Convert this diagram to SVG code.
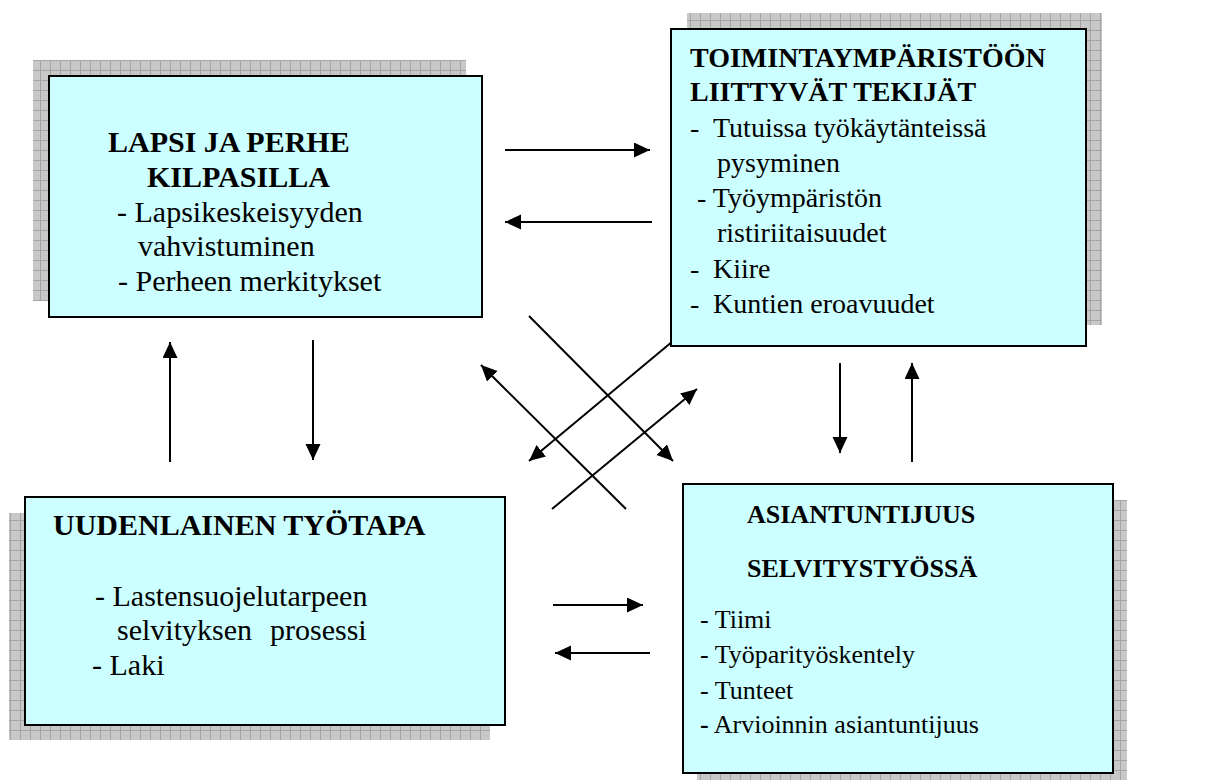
<svg xmlns="http://www.w3.org/2000/svg" width="1213" height="780" viewBox="0 0 1213 780">
<style>
.box{fill:#ccffff;stroke:#000;stroke-width:2}
.sh{fill:url(#grid)}
text{fill:#000}
.b{font-weight:bold}
.c{stroke:#000;stroke-width:2;fill:none;marker-end:url(#ah)}
</style>
<defs>
<pattern id="grid" width="10" height="10" patternUnits="userSpaceOnUse">
<rect width="10" height="10" fill="#c8c8c8"/>
<path d="M0,0.5H10M0.5,0V10" stroke="#a4a4a4" stroke-width="1"/>
</pattern>
<marker id="ah" markerUnits="userSpaceOnUse" markerWidth="18" markerHeight="16" refX="16" refY="7.5" orient="auto">
<path d="M0,0L16,7.5L0,15z" fill="#000"/>
</marker>
</defs>
<rect width="1213" height="780" fill="#fff"/>
<g id="connectors">
<line class="c" x1="505" y1="150" x2="650" y2="150"/>
<line class="c" x1="652" y1="222" x2="505" y2="222"/>
<line class="c" x1="170" y1="462" x2="170" y2="342"/>
<line class="c" x1="313" y1="340" x2="313" y2="460"/>
<line class="c" x1="840" y1="363" x2="840" y2="453"/>
<line class="c" x1="912" y1="462" x2="912" y2="363"/>
<line class="c" x1="553" y1="605" x2="643" y2="605"/>
<line class="c" x1="650" y1="653" x2="555" y2="653"/>
<line class="c" x1="529" y1="316" x2="673" y2="461"/>
<line class="c" x1="673" y1="341" x2="529" y2="461"/>
<line class="c" x1="626" y1="509" x2="481" y2="365"/>
<line class="c" x1="552" y1="509" x2="697" y2="389"/>
</g>
<g font-family="'Liberation Serif', 'Times New Roman', 'DejaVu Serif', serif">
<g id="node-lapsi">
<rect class="sh" x="33" y="60" width="433" height="241"/>
<rect class="box" x="49" y="76" width="433" height="241"/>
<text class="b" font-size="30" x="108" y="152">LAPSI JA PERHE</text>
<text class="b" font-size="30" x="147" y="187">KILPASILLA</text>
<text font-size="30" x="117" y="222">- Lapsikeskeisyyden</text>
<text font-size="30" x="138" y="256">vahvistuminen</text>
<text font-size="30" x="118" y="291">- Perheen merkitykset</text>
</g>
<g id="node-toiminta">
<rect class="sh" x="687" y="13" width="415" height="312"/>
<rect class="box" x="671" y="29" width="415" height="317"/>
<text class="b" font-size="28" x="690" y="67">TOIMINTAYMPÄRISTÖÖN</text>
<text class="b" font-size="28" x="690" y="101">LIITTYVÄT TEKIJÄT</text>
<text font-size="28" y="137"><tspan x="690">-</tspan><tspan x="713">Tutuissa työkäytänteissä</tspan></text>
<text font-size="28" x="717" y="172">pysyminen</text>
<text font-size="28" x="697" y="207">- Työympäristön</text>
<text font-size="28" x="717" y="242">ristiriitaisuudet</text>
<text font-size="28" y="278"><tspan x="690">-</tspan><tspan x="713">Kiire</tspan></text>
<text font-size="28" y="313"><tspan x="690">-</tspan><tspan x="713">Kuntien eroavuudet</tspan></text>
</g>
<g id="node-uudenlainen">
<rect class="sh" x="9" y="513" width="481" height="227"/>
<rect class="box" x="25" y="497" width="480" height="228"/>
<text class="b" font-size="30" x="53" y="535">UUDENLAINEN TYÖTAPA</text>
<text font-size="30" x="95" y="606">- Lastensuojelutarpeen</text>
<text font-size="30" y="640"><tspan x="117">selvityksen</tspan><tspan x="270">prosessi</tspan></text>
<text font-size="30" x="92" y="675">- Laki</text>
</g>
<g id="node-asiantuntijuus">
<rect class="sh" x="697" y="500" width="430" height="290"/>
<rect class="box" x="683" y="484" width="430" height="289"/>
<text class="b" font-size="26" x="747" y="523">ASIANTUNTIJUUS</text>
<text class="b" font-size="26" x="747" y="577">SELVITYSTYÖSSÄ</text>
<text font-size="26" x="700" y="628">- Tiimi</text>
<text font-size="26" x="700" y="663">- Työparityöskentely</text>
<text font-size="26" x="700" y="699">- Tunteet</text>
<text font-size="26" x="700" y="733"><tspan font-weight="bold">-</tspan> Arvioinnin asiantuntijuus</text>
</g>
</g>
</svg>
